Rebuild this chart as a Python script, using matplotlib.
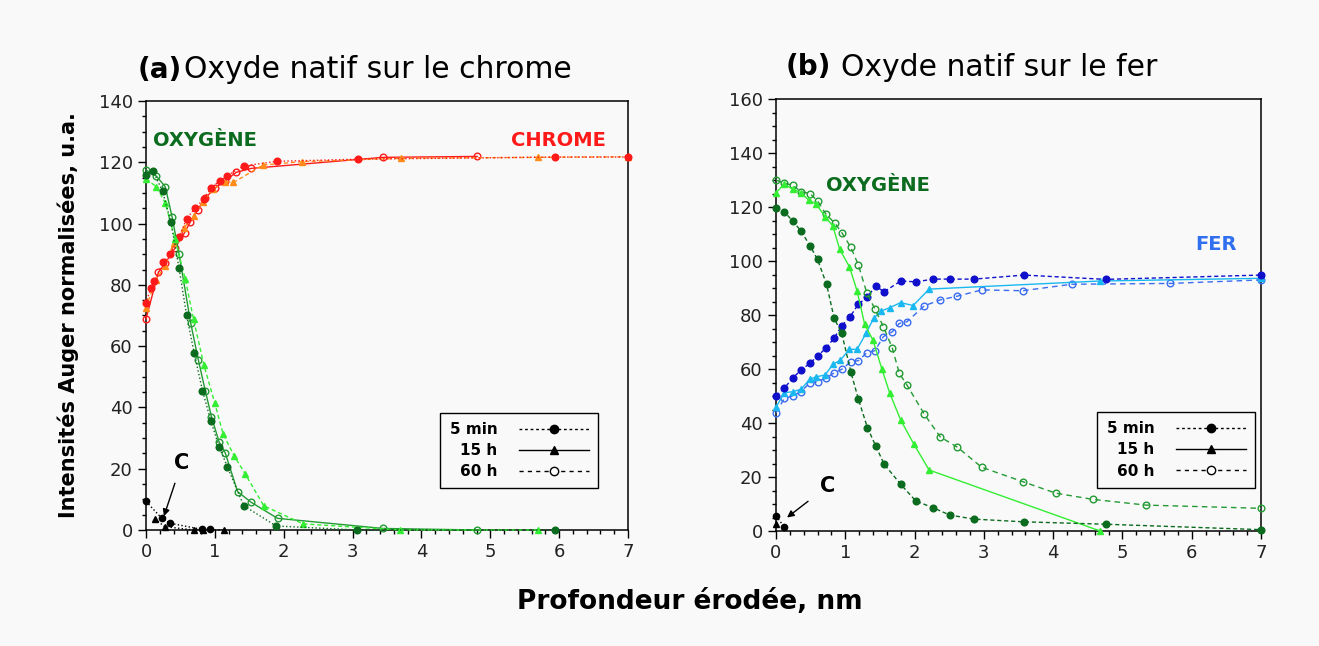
import numpy as np
import matplotlib.pyplot as plt
from matplotlib.lines import Line2D
from matplotlib.ticker import MultipleLocator

# ---- (a) chrome ----
a_cr_5min_x = [0, 0.07, 0.12, 0.25, 0.35, 0.48, 0.59, 0.71, 0.84, 0.95, 1.07, 1.17, 1.42, 1.90, 3.08, 5.94, 7.0]
a_cr_5min_y = [74, 79, 81.3, 87.4, 90, 95.6, 101.5, 105, 108, 111.7, 114, 115.5, 118.8, 120.3, 121, 121.7, 121.7]
a_cr_15h_x = [0, 0.14, 0.27, 0.40, 0.55, 0.69, 0.83, 0.97, 1.15, 1.27, 1.70, 2.27, 3.70, 5.69, 7.0]
a_cr_15h_y = [72.6, 81.5, 86, 93.6, 98.5, 102.5, 107, 111.2, 113.7, 113.4, 119.1, 120.2, 121.3, 121.6, 121.8]
a_cr_60h_x = [0, 0.18, 0.28, 0.42, 0.56, 0.64, 0.75, 0.86, 1.0, 1.15, 1.31, 1.53, 3.44, 4.81]
a_cr_60h_y = [68.9, 84.1, 87.1, 92, 97, 100.4, 104.5, 108.3, 111.5, 114, 116.7, 118, 121.6, 121.9]

# ---- (a) oxygene ----
a_o_5min_x = [0, 0.10, 0.24, 0.36, 0.48, 0.59, 0.70, 0.82, 0.94, 1.06, 1.18, 1.42, 1.89, 3.07, 5.94]
a_o_5min_y = [116, 117.3, 110.5, 100.6, 85.4, 70, 57.7, 45.5, 35.7, 27.2, 20.7, 7.9, 1.3, 0, 0]
a_o_15h_x = [0, 0.15, 0.28, 0.42, 0.57, 0.69, 0.84, 1.0, 1.12, 1.28, 1.44, 1.71, 2.28, 3.69, 5.69]
a_o_15h_y = [114.6, 112, 106.7, 95, 81.9, 68.8, 53.9, 41.3, 31.3, 24.2, 18.3, 7.9, 2, 0, 0]
a_o_60h_x = [0, 0.15, 0.28, 0.38, 0.48, 0.65, 0.76, 0.86, 0.95, 1.06, 1.15, 1.33, 1.53, 1.91, 3.44, 4.8]
a_o_60h_y = [117.5, 115.5, 112, 102, 90, 67.4, 55.5, 45.5, 37, 28.8, 25.2, 12.5, 9, 3.8, 0.5, 0]

# ---- (a) carbone ----
a_c_5min_x = [0, 0.23, 0.35, 0.81, 0.93]
a_c_5min_y = [9.3, 3.8, 2.2, 0.2, 0.2]
a_c_15h_x = [0.13, 0.27, 0.69, 0.83, 1.13]
a_c_15h_y = [3.6, 1.1, 0, 0, 0]

# ---- (b) oxygene ----
b_o_5min_x = [0, 0.12, 0.24, 0.36, 0.49, 0.60, 0.73, 0.84, 0.95, 1.08, 1.19, 1.32, 1.44, 1.56, 1.80, 2.02,
              2.27, 2.51, 2.86, 3.58, 4.77, 7.0]
b_o_5min_y = [119.5, 118.3, 114.8, 111.2, 105.7, 100.6, 91.4, 78.8, 73.2, 59.0, 48.8, 38.3, 31.5, 24.8, 17.3, 11.1,
              8.6, 5.9, 4.4, 3.4, 2.5, 0.5]
b_o_15h_x = [0, 0.12, 0.24, 0.36, 0.47, 0.58, 0.71, 0.82, 0.92, 1.06, 1.17, 1.28, 1.40, 1.53, 1.64, 1.80, 1.99,
             2.21, 4.68]
b_o_15h_y = [125.3, 128.5, 126.6, 125.3, 122.6, 121.1, 116.4, 113, 104.3, 97.9, 89, 76.6, 70.7, 59.9, 51.2, 41.1,
             32.2, 22.6, 0]
b_o_60h_x = [0, 0.12, 0.24, 0.36, 0.49, 0.60, 0.72, 0.85, 0.95, 1.08, 1.19, 1.31, 1.43, 1.55, 1.68, 1.78, 1.89,
             2.14, 2.37, 2.62, 2.97, 3.56, 4.04, 4.58, 5.34, 7.0]
b_o_60h_y = [130, 128.8, 128.1, 125.7, 125, 122.3, 117.4, 114, 110.5, 105.1, 98.5, 88.3, 82.1, 75.7, 67.7, 58.4,
             54.1, 43.3, 34.9, 31, 23.6, 18.3, 14, 11.7, 9.6, 8.4]

# ---- (b) fer ----
b_fe_5min_x = [0, 0.12, 0.24, 0.36, 0.49, 0.60, 0.72, 0.84, 0.95, 1.07, 1.19, 1.32, 1.44, 1.56, 1.80, 2.02, 2.27,
               2.51, 2.86, 3.58, 4.76, 7.0]
b_fe_5min_y = [50.1, 52.9, 56.6, 59.6, 62.1, 64.8, 67.7, 71.5, 76, 79.4, 84, 86.8, 90.7, 88.6, 92.6, 92.3, 93.3,
               93.3, 93.3, 94.8, 93.2, 94.8]
b_fe_15h_x = [0, 0.12, 0.24, 0.36, 0.49, 0.58, 0.71, 0.82, 0.93, 1.06, 1.17, 1.30, 1.41, 1.52, 1.64, 1.80, 1.98,
              2.21, 4.68, 7.0]
b_fe_15h_y = [45.8, 51.2, 51.6, 52.5, 56.2, 57.1, 57.8, 61.7, 63.3, 67.3, 67.3, 73.2, 78.8, 81.5, 82.7, 84.6, 83.5,
              89.6, 92.6, 93.6]
b_fe_60h_x = [0, 0.12, 0.24, 0.36, 0.49, 0.60, 0.72, 0.84, 0.95, 1.08, 1.19, 1.31, 1.43, 1.55, 1.68, 1.78, 1.89,
              2.14, 2.37, 2.62, 2.97, 3.56, 4.27, 5.69, 7.0]
b_fe_60h_y = [43.8, 49.1, 50, 51.6, 54.9, 55.3, 56.6, 58.6, 59.9, 62.7, 63.1, 66, 66.8, 72, 73.8, 76.9, 77.5,
              83.4, 85.6, 87, 89.3, 89, 91.4, 91.7, 93]

# ---- (b) carbone ----
b_c_5min_x = [0, 0.12]
b_c_5min_y = [5.5, 1.6]
b_c_15h_x = [0]
b_c_15h_y = [2.6]

legend_labels = ['5 min', '15 h', '60 h']

BG = '#f9f9f9'
DKGREEN = '#0b6b1e'
LTGREEN = '#33ee33'
MDGREEN = '#239a33'
RED = '#ff1a1a'
ORANGE = '#ff8c1a'
DKBLUE = '#1010cc'
CYAN = '#1ab8f0'
MDBLUE = '#3a6cf0'

plt.rcParams['font.family'] = ['DejaVu Sans']

fig = plt.figure(figsize=(13.19, 6.46), dpi=100, facecolor=BG)
ax_a = fig.add_axes([0.1107, 0.1796, 0.3654, 0.6641])
ax_b = fig.add_axes([0.5883, 0.178, 0.3677, 0.6687])


def series(ax, x, y, color, style, marker, filled=True, ms=4.8, lw=1.0):
    ax.plot(x, y, color=color, linestyle=style, linewidth=lw, marker=marker, markersize=ms,
            markerfacecolor=color if filled else 'none', markeredgecolor=color,
            markeredgewidth=1.0, clip_on=False, zorder=3)


def style_axes(ax, ymax, tag, title, x_tag, x_title):
    ax.set_facecolor(BG)
    ax.set_xlim(0, 7)
    ax.set_ylim(0, ymax)
    ax.xaxis.set_major_locator(MultipleLocator(1))
    ax.xaxis.set_minor_locator(MultipleLocator(0.2))
    ax.yaxis.set_major_locator(MultipleLocator(20))
    ax.yaxis.set_minor_locator(MultipleLocator(5))
    ax.tick_params(which='major', direction='out', length=6, width=1, labelsize=13,
                   labelcolor='#222222', top=False, right=False)
    ax.tick_params(which='minor', direction='out', length=3, width=1, top=False, right=False)
    for sp in ax.spines.values():
        sp.set_linewidth(1.1)
        sp.set_color('black')
    ax.text(x_tag, 1.073, tag, transform=ax.transAxes, fontsize=20, fontweight='bold',
            ha='left', va='center')
    ax.text(x_title, 1.073, title, transform=ax.transAxes, fontsize=21.5,
            ha='left', va='center')


def add_legend(ax, anchor):
    handles = [
        Line2D([], [], color='black', linestyle=(0, (2, 2)), lw=1, marker='o', markersize=6),
        Line2D([], [], color='black', linestyle='-', lw=1, marker='^', markersize=6),
        Line2D([], [], color='black', linestyle=(0, (3, 3)), lw=1, marker='o', markersize=6,
               markerfacecolor='white'),
    ]
    leg = ax.legend(handles, legend_labels, loc='upper right', bbox_to_anchor=anchor,
                    markerfirst=False, fancybox=False, framealpha=1, edgecolor='black',
                    facecolor=BG, handlelength=4.6, prop={'weight': 'bold', 'size': 11},
                    borderpad=0.6, labelspacing=0.4, handletextpad=1.4, borderaxespad=0)
    leg.get_frame().set_linewidth(1.0)
    leg.set_zorder(5)


# ---- panel (a) ----
style_axes(ax_a, 140, '(a)', 'Oxyde natif sur le chrome', -0.018, 0.078)
series(ax_a, a_cr_60h_x, a_cr_60h_y, RED, '-', 'o', filled=False)
series(ax_a, a_cr_15h_x, a_cr_15h_y, ORANGE, (0, (3, 2)), '^')
series(ax_a, a_cr_5min_x, a_cr_5min_y, RED, ':', 'o')
series(ax_a, a_o_60h_x, a_o_60h_y, MDGREEN, '-', 'o', filled=False)
series(ax_a, a_o_15h_x, a_o_15h_y, LTGREEN, (0, (3, 2)), '^')
series(ax_a, a_o_5min_x, a_o_5min_y, DKGREEN, ':', 'o')
series(ax_a, a_c_15h_x, a_c_15h_y, 'black', ':', '^', ms=4.5)
series(ax_a, a_c_5min_x, a_c_5min_y, 'black', ':', 'o', ms=4.5)
ax_a.text(0.1, 127, 'OXYGÈNE', color=DKGREEN, fontsize=14, fontweight='bold', ha='left', va='center')
ax_a.text(5.3, 127, 'CHROME', color=RED, fontsize=14, fontweight='bold', ha='left', va='center')
ax_a.annotate('C', xy=(0.26, 4.5), xytext=(0.52, 22), fontsize=15, fontweight='bold',
              ha='center', va='center',
              arrowprops=dict(arrowstyle='-|>', color='black', lw=1, mutation_scale=10,
                              shrinkA=6, shrinkB=0))
ax_a.set_ylabel('Intensités Auger normalisées, u.a.', fontsize=15, fontweight='bold', labelpad=14)
add_legend(ax_a, (0.938, 0.273))

# ---- panel (b) ----
style_axes(ax_b, 160, '(b)', 'Oxyde natif sur le fer', 0.02, 0.135)
series(ax_b, b_fe_60h_x, b_fe_60h_y, MDBLUE, (0, (4, 3)), 'o', filled=False)
series(ax_b, b_fe_15h_x, b_fe_15h_y, CYAN, '-', '^')
series(ax_b, b_fe_5min_x, b_fe_5min_y, DKBLUE, (0, (3, 2)), 'o')
series(ax_b, b_o_60h_x, b_o_60h_y, MDGREEN, (0, (4, 3)), 'o', filled=False)
series(ax_b, b_o_15h_x, b_o_15h_y, LTGREEN, '-', '^')
series(ax_b, b_o_5min_x, b_o_5min_y, DKGREEN, (0, (3, 2)), 'o')
series(ax_b, b_c_15h_x, b_c_15h_y, 'black', ':', '^', ms=4.5)
series(ax_b, b_c_5min_x, b_c_5min_y, 'black', ':', 'o', ms=4.5)
ax_b.text(0.72, 128, 'OXYGÈNE', color=DKGREEN, fontsize=14, fontweight='bold', ha='left', va='center')
ax_b.text(6.05, 106, 'FER', color='#2f6ff0', fontsize=14, fontweight='bold', ha='left', va='center')
ax_b.annotate('C', xy=(0.16, 5.0), xytext=(0.74, 16.5), fontsize=15, fontweight='bold',
              ha='center', va='center',
              arrowprops=dict(arrowstyle='-|>', color='black', lw=1, mutation_scale=10,
                              shrinkA=8, shrinkB=0))
add_legend(ax_b, (0.988, 0.275))

fig.text(0.523, 0.068, 'Profondeur érodée, nm', fontsize=19, fontweight='bold', ha='center', va='center')

fig.savefig('out.png', dpi=100, facecolor=BG)
